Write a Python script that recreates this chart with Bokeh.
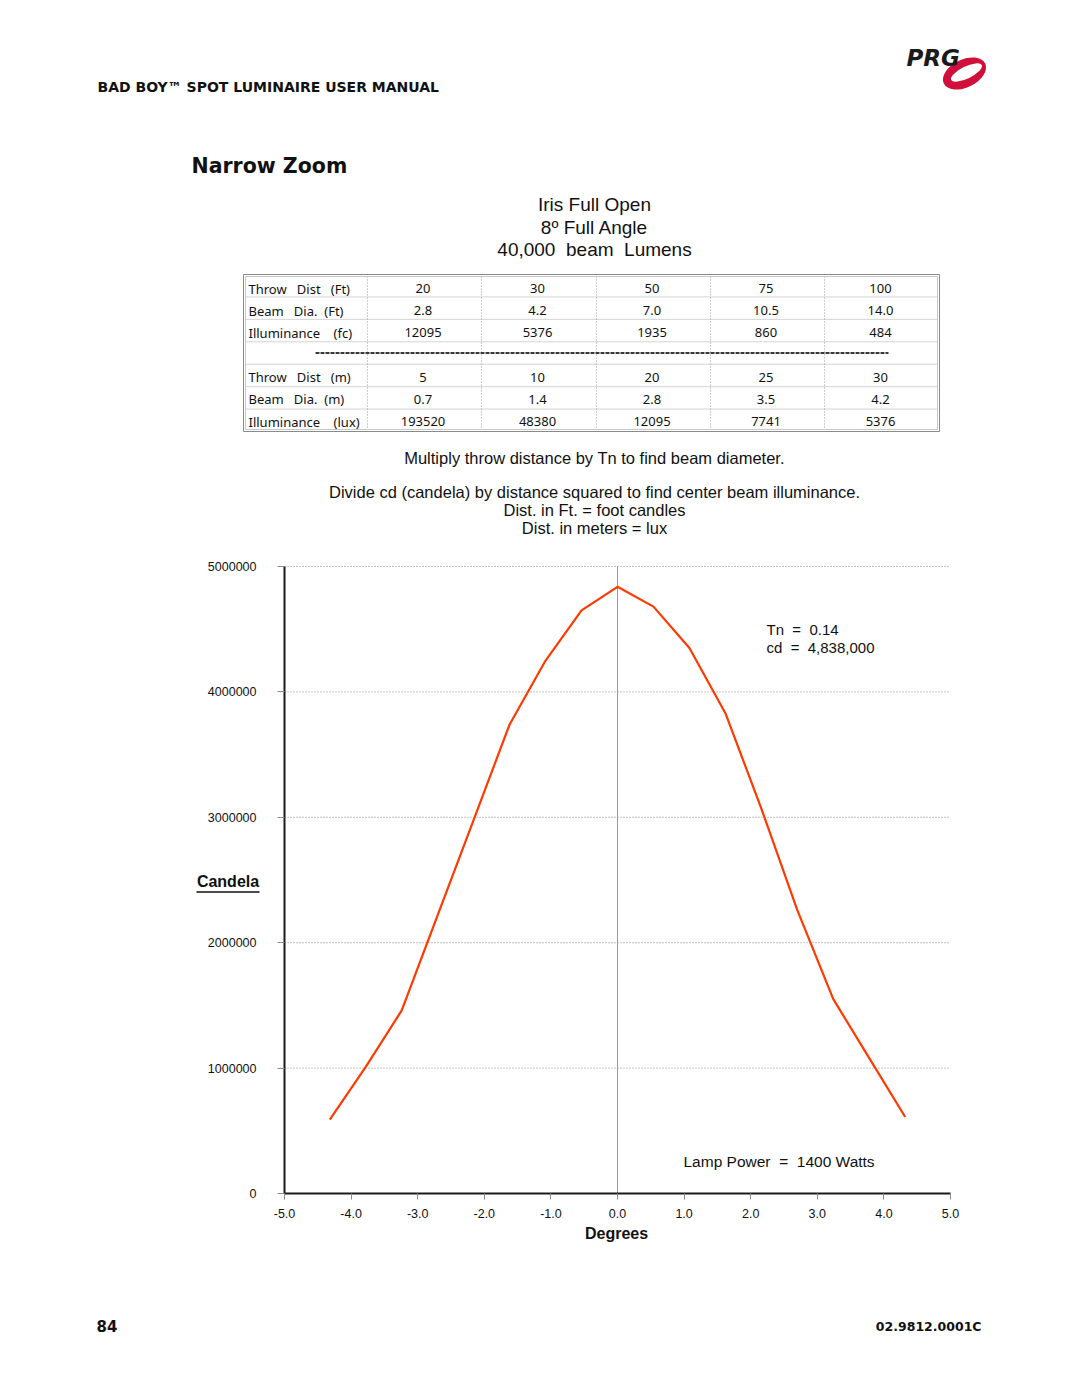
from bokeh.plotting import figure
from bokeh.models import Range1d, LinearAxis, FixedTicker, NumeralTickFormatter
from bokeh.layouts import column
from bokeh.embed import file_html
from bokeh.resources import INLINE
from bokeh.core.properties import value

# ---------------- data ----------------
degrees = [-4.32, -3.78, -3.24, -2.70, -2.16, -1.62, -1.08, -0.54, 0.0,
           0.54, 1.08, 1.62, 2.16, 2.70, 3.24, 3.78, 4.32]
candela = [590000, 1010000, 1460000, 2220000, 2980000, 3740000, 4250000, 4650000, 4838000,
           4680000, 4350000, 3830000, 3070000, 2260000, 1550000, 1080000, 610000]
x_ticks = [-5, -4, -3, -2, -1, 0, 1, 2, 3, 4, 5]
y_ticks = [0, 1000000, 2000000, 3000000, 4000000, 5000000]

NB = "\u00a0"
row_labels_ft = ["Throw" + NB * 3 + "Dist" + NB * 3 + "(Ft)",
                 "Beam" + NB * 3 + "Dia." + NB * 2 + "(Ft)",
                 "Illuminance" + NB * 4 + "(fc)"]
row_labels_m = ["Throw" + NB * 3 + "Dist" + NB * 3 + "(m)",
                "Beam" + NB * 3 + "Dia." + NB * 2 + "(m)",
                "Illuminance" + NB * 4 + "(lux)"]
throw_ft = ["20", "30", "50", "75", "100"]
beam_ft = ["2.8", "4.2", "7.0", "10.5", "14.0"]
illum_fc = ["12095", "5376", "1935", "860", "484"]
throw_m = ["5", "10", "20", "25", "30"]
beam_m = ["0.7", "1.4", "2.8", "3.5", "4.2"]
illum_lux = ["193520", "48380", "12095", "7741", "5376"]

title_lines = ["Iris Full Open", "8º Full Angle", "40,000" + NB + " beam" + NB + " Lumens"]
note_lines = ["Multiply throw distance by Tn to find beam diameter.",
              "Divide cd (candela) by distance squared to find center beam illuminance.",
              "Dist. in Ft. = foot candles",
              "Dist. in meters = lux"]

RED = "#ff3a00"
W = 1080


def txt(p, xs, ys, texts, size, font="Liberation Sans", style="normal", align="left", color="#111111"):
    p.text(x=xs, y=ys, text=texts, text_font=value(font), text_font_size=value(size),
           text_font_style=style, text_align=align, text_baseline="middle", text_color=color)


# ---------------- top figure (page header, title, table) ----------------
TOP_H = 540
pa = figure(width=W, height=TOP_H, x_range=Range1d(0, W), y_range=Range1d(TOP_H, 0),
            x_axis_location=None, y_axis_location=None, toolbar_location=None,
            output_backend="svg", min_border=0, outline_line_color=None)
pa.grid.visible = False

# header
txt(pa, [97], [86], ["BAD BOY™ SPOT LUMINAIRE USER MANUAL"], "14px", font="DejaVu Sans", style="bold")
# logo
pa.ellipse(x=[964], y=[73], width=46, height=28, angle=0.45, fill_color="#d0103a", line_color=None)
pa.ellipse(x=[966], y=[72], width=34, height=12, angle=0.45, fill_color="white", line_color=None)
txt(pa, [906], [57], ["PRG"], "23px", font="DejaVu Sans", style="bold italic", color="#1a1a1a")

# section title
txt(pa, [191], [165], ["Narrow Zoom"], "20.5px", font="DejaVu Sans", style="bold")

# chart title
txt(pa, [594] * 3, [204, 227, 249], title_lines, "19px", align="center")

# table geometry
col_edges = [367, 481, 596, 710, 824, 939]
col_centers = [(a + b) / 2 - 1.5 for a, b in zip(col_edges[:-1], col_edges[1:])]
tb_left, tb_right, tb_top, tb_bot = 243, 939, 274, 431
row_h = (tb_bot - tb_top) / 7
row_y = [288 + 22.17 * i for i in range(7)]

for i in range(1, 7):
    yy = tb_top + row_h * i
    pa.line(x=[tb_left + 2, tb_right - 2], y=[yy, yy], line_color="#d4d4d4", line_width=1)
for xe in col_edges[:-1]:
    pa.line(x=[xe, xe], y=[tb_top + 2, tb_bot - 2], line_color="#9a9a9a", line_width=1, line_dash="1 2")
pa.quad(left=[tb_left], right=[tb_right], top=[tb_top], bottom=[tb_bot], fill_color=None,
        line_color="#8a8a8a", line_width=1)
pa.quad(left=[tb_left + 2], right=[tb_right - 2], top=[tb_top + 2], bottom=[tb_bot - 2], fill_color=None,
        line_color="#c8c8c8", line_width=1)
pa.line(x=[315, 888], y=[tb_top + row_h * 3.5, tb_top + row_h * 3.5], line_color="#3a3a3a",
        line_width=2, line_dash="4 1")

tfont = "Noto Sans"
txt(pa, [248] * 3, row_y[0:3], row_labels_ft, "13px", font=tfont)
txt(pa, [248] * 3, row_y[4:7], row_labels_m, "13px", font=tfont)
for vals, ry in [(throw_ft, row_y[0]), (beam_ft, row_y[1]), (illum_fc, row_y[2]),
                 (throw_m, row_y[4]), (beam_m, row_y[5]), (illum_lux, row_y[6])]:
    txt(pa, col_centers, [ry] * 5, vals, "13px", font=tfont, align="center")

txt(pa, [594] * 4, [457, 491, 509, 527], note_lines, "16.5px", align="center")

# ---------------- chart figure ----------------
FL, FR, FT, FB = 284, 950, 566, 1193  # plot area on the page (pixels)
XR = (x_ticks[0], x_ticks[-1])
YR = (y_ticks[0], y_ticks[-1])
B_TOP = TOP_H
B_H = 1360 - B_TOP


def X(px):
    return XR[0] + (px - FL) * (XR[1] - XR[0]) / (FR - FL)


def Y(py):
    return YR[0] + (FB - py) * (YR[1] - YR[0]) / (FB - FT)


pb = figure(width=W, height=B_H, x_range=Range1d(X(0), X(W)), y_range=Range1d(Y(B_TOP + B_H), Y(B_TOP)),
            x_axis_location=None, y_axis_location=None, toolbar_location=None, output_backend="svg",
            min_border=0, outline_line_color=None)
pb.grid.visible = False

# dotted horizontal grid lines and centre line
pb.segment(x0=[XR[0]] * 5, y0=y_ticks[1:], x1=[XR[1]] * 5, y1=y_ticks[1:],
           line_color="#8a8a8a", line_width=1, line_dash="1 2")
pb.segment(x0=[0], y0=[YR[0]], x1=[0], y1=[YR[1]], line_color="#9a9a9a", line_width=1)

pb.line(x=degrees, y=candela, line_color=RED, line_width=2.2)

xaxis = LinearAxis(fixed_location=YR[0], bounds=XR, ticker=FixedTicker(ticks=x_ticks),
                   formatter=NumeralTickFormatter(format="0.0"))
yaxis = LinearAxis(fixed_location=XR[0], bounds=YR, ticker=FixedTicker(ticks=y_ticks),
                   formatter=NumeralTickFormatter(format="0"))
for ax in (xaxis, yaxis):
    ax.axis_line_width = 2
    ax.axis_line_color = "#1a1a1a"
    ax.major_tick_in = 0
    ax.major_tick_line_color = "#8a8a8a"
    ax.minor_tick_line_color = None
    ax.major_label_text_font = "Liberation Sans"
    ax.major_label_text_font_size = "12.5px"
    ax.major_label_text_color = "#111111"
xaxis.major_tick_out = 6
xaxis.major_label_standoff = 9
yaxis.major_tick_out = 7
yaxis.major_label_standoff = 21
pb.add_layout(xaxis, "below")
pb.add_layout(yaxis, "left")

# texts in the chart area
txt(pb, [X(766), X(766)], [Y(629), Y(647)],
    ["Tn" + NB * 2 + "=" + NB * 2 + "0.14", "cd" + NB * 2 + "=" + NB * 2 + "4,838,000"], "15px")
txt(pb, [X(683)], [Y(1161)], ["Lamp Power" + NB + " =" + NB + " 1400 Watts"], "15.5px")
txt(pb, [X(616)], [Y(1233)], ["Degrees"], "16px", style="bold", align="center")
txt(pb, [X(227.5)], [Y(881)], ["Candela"], "16px", style="bold", align="center")
pb.segment(x0=[X(196)], y0=[Y(891.5)], x1=[X(259)], y1=[Y(891.5)], line_color="#111111", line_width=1.3)

# footer
txt(pb, [X(96)], [Y(1325)], ["84"], "15px", font="DejaVu Sans", style="bold")
txt(pb, [X(981)], [Y(1326)], ["02.9812.0001C"], "12.5px", font="DejaVu Sans", style="bold", align="right")

layout = column(pa, pb, spacing=0)
open("out.html", "w").write(file_html(layout, INLINE))
